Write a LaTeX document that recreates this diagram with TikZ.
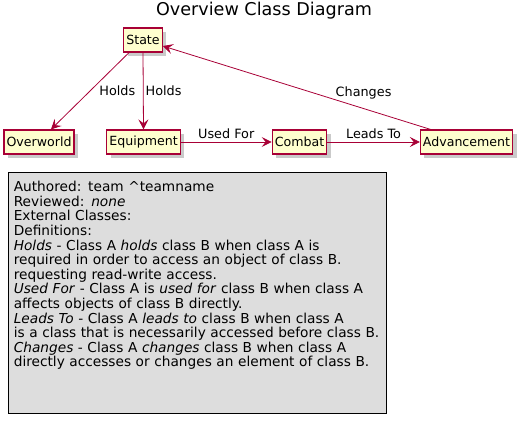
\documentclass[tikz,border=0pt]{standalone}
\usepackage{fontspec}
\setmainfont{DejaVu Sans}
\usetikzlibrary{arrows.meta,positioning,shadows}
\definecolor{umlred}{HTML}{A80036}
\definecolor{umlfill}{HTML}{FEFECE}
\definecolor{notegray}{HTML}{DDDDDD}

\tikzset{
  cls/.style={draw=umlred,fill=umlfill,line width=1.2pt,inner xsep=2.5pt,minimum height=24pt,
    font=\fontsize{12.6}{14}\selectfont,
    drop shadow={shadow xshift=4pt,shadow yshift=-4pt,fill=black!35,opacity=.6}},
  rel/.style={draw=umlred,line width=0.8pt,-{Stealth[length=10pt,width=10pt,inset=4pt]}},
  lbl/.style={font=\fontsize{12.8}{14}\selectfont,inner sep=1pt},
}

\begin{document}
\begin{tikzpicture}[x=1pt,y=-1pt]
\useasboundingbox (0,0) rectangle (526,422);
\node[font=\fontsize{17.6}{20}\selectfont] (title) at (264,11) {Overview Class Diagram};
% classes
\node[cls] (state) at (143,40) {State};
\node[cls] (ovw) at (39,142) {Overworld};
\node[cls] (equip) at (143.5,142) {Equipment};
\node[cls] (combat) at (299.5,142) {Combat};
\node[cls] (adv) at (466.5,142) {Advancement};
% relations
\draw[rel] ([xshift=-14pt]state.south) -- node[lbl,pos=.5,right=8pt] {Holds} ([xshift=12pt]ovw.north);
\draw[rel] (state.south) -- node[lbl,pos=.5,right=1pt] {Holds} (equip.north);
\draw[rel] (equip.east) -- node[lbl,above=2pt] {Used For} (combat.west);
\draw[rel] (combat.east) -- node[lbl,above=2pt] {Leads To} (adv.west);
\draw[rel] ([xshift=-36pt]adv.north) -- node[lbl,pos=.25,above=8pt] {Changes} ([yshift=-6pt]state.east);
% note
\node[draw=black,fill=notegray,line width=0.6pt,anchor=north west,align=left,
  minimum width=378pt,text width=367pt,inner xsep=5.5pt,inner ysep=9pt,
  font=\fontsize{13.7}{14.6}\selectfont] (note) at (8,172)
{Authored: team \^{}teamname\\
Reviewed: \textit{none}\\
External Classes:\\
Definitions:\\
\textit{Holds} - Class A \textit{holds} class B when class A is\\
required in order to access an object of class B.\\
requesting read-write access.\\
\textit{Used For} - Class A is \textit{used for} class B when class A\\
affects objects of class B directly.\\
\textit{Leads To} - Class A \textit{leads to} class B when class A\\
is a class that is necessarily accessed before class B.\\
\textit{Changes} - Class A \textit{changes} class B when class A\\
directly accesses or changes an element of class B.\\[22.7pt]
\mbox{}};
\end{tikzpicture}
\end{document}
